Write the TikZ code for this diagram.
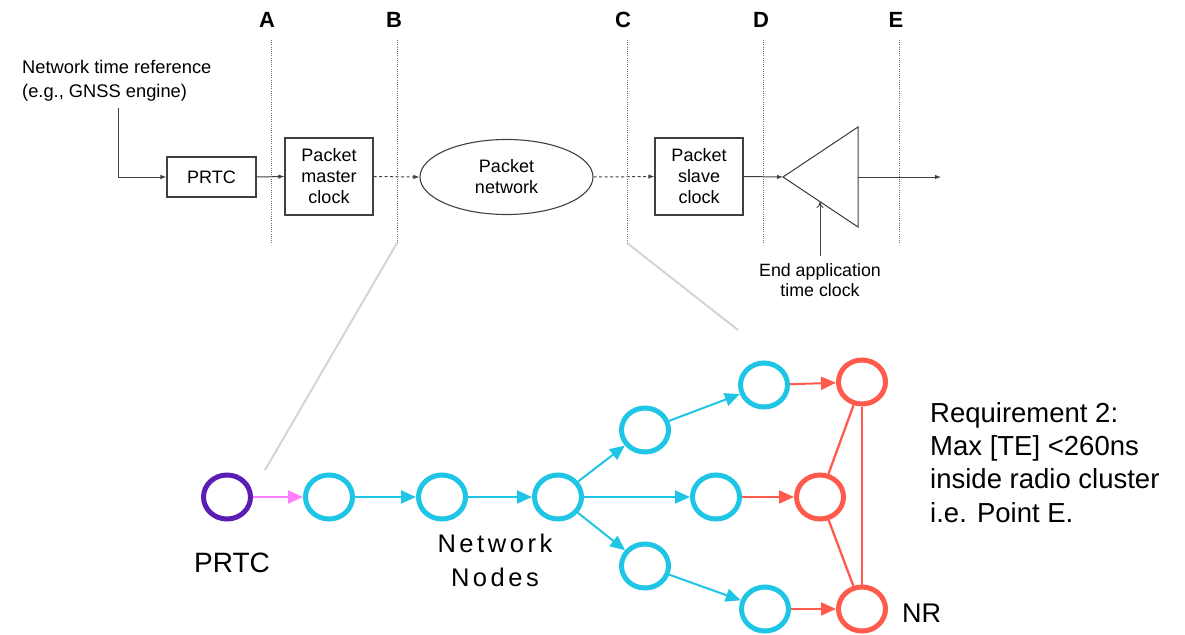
\documentclass[tikz,border=0pt]{standalone}
\usepackage{fontspec}
\setmainfont{Liberation Sans}
\newfontfamily\spacedfont[LetterSpace=14]{Liberation Sans}
\usetikzlibrary{arrows.meta,shapes.geometric}
\definecolor{cyanN}{HTML}{1FC5E5}
\definecolor{redN}{HTML}{FF5A4B}
\definecolor{purpN}{HTML}{5A1EB4}
\definecolor{pinkN}{HTML}{FF80FF}
\definecolor{lineG}{HTML}{404040}
\definecolor{dotG}{HTML}{707070}
\definecolor{diagG}{HTML}{D4D4D4}
\tikzset{
  topbox/.style={draw=lineG, line width=1.1pt, align=center, inner sep=0pt,
    font=\fontsize{18}{21}\selectfont, text=black},
  topline/.style={draw=lineG, line width=1pt},
  toparrow/.style={topline, -{Latex[length=6pt,width=4.5pt]}},
  dasharrow/.style={toparrow, dash pattern=on 3pt off 2.5pt},
  marker/.style={draw=dotG, line width=0.9pt, dash pattern=on 1pt off 1.2pt},
  markerlabel/.style={font=\fontsize{22}{24}\selectfont\bfseries, anchor=base, inner sep=0pt},
  nd/.style={ellipse, draw, line width=5pt, minimum width=47pt, minimum height=44pt, inner sep=0pt},
  cnode/.style={nd, draw=cyanN},
  rnode/.style={nd, draw=redN},
  carrow/.style={draw=cyanN, line width=2pt, -{Triangle[length=15pt,width=13pt]}},
  rarrow/.style={draw=redN, line width=2pt, -{Triangle[length=15pt,width=13pt]}},
  rline/.style={draw=redN, line width=2.3pt},
  diag/.style={draw=diagG, line width=2pt}
}
\begin{document}
\begin{tikzpicture}[x=1pt,y=-1pt]
\useasboundingbox (0,0) rectangle (1185,634);

% ---------- top diagram ----------
\node[font=\fontsize{18.3}{23.5}\selectfont, align=left, anchor=north west, inner sep=0pt] (ref) at (22,60.5)
  {Network time reference\\(e.g., GNSS engine)};
\coordinate (refbot) at (118,108);
\coordinate (bend) at (118,177);

\node[topbox, minimum width=89pt, minimum height=40pt] (prtc) at (211.5,177) {PRTC};
\node[topbox, minimum width=88pt, minimum height=77pt] (pmc) at (329,176.5) {Packet\\master\\clock};
\node[ellipse, draw=lineG, line width=1.1pt, minimum width=173pt, minimum height=75pt, inner sep=0pt,
      align=center, font=\fontsize{18}{21}\selectfont] (pnet) at (506.5,177) {Packet\\network};
\node[topbox, minimum width=88pt, minimum height=77pt] (psc) at (699,176.5) {Packet\\slave\\clock};

\coordinate (tip) at (783,177);
\coordinate (ttop) at (858,127);
\coordinate (tbot) at (858,227);
\coordinate (tright) at (858,177);
\coordinate (out) at (941,177);
\coordinate (tclk) at (820,202);

\draw[topline] (ttop) -- (tbot) -- (tip) -- cycle;

\draw[toparrow] (refbot) -- (bend) -- (prtc.west);
\draw[toparrow] (prtc.east) -- (pmc.west);
\draw[dasharrow] (pmc.east) -- (pnet.west);
\draw[dasharrow] (pnet.east) -- (psc.west);
\draw[toparrow] (psc.east) -- (tip);
\draw[toparrow] (tright) -- (out);

\node[font=\fontsize{17.8}{20}\selectfont, align=center, anchor=north, inner sep=0pt] (endapp) at (820,263.5)
  {End application\\time clock};
\draw[topline, -{To[length=6pt,width=7pt]}] (endapp.north) ++(0,-8) coordinate (eafoot) -- (tclk);

% markers
\foreach \n/\x/\lx in {A/271/267, B/397/394, C/627/623, D/763/761, E/899/896}{
  \coordinate (\n top) at (\x,40);
  \coordinate (\n bot) at (\x,243);
  \draw[marker] (\n top) -- (\n bot);
  \node[markerlabel] (lab\n) at (\lx,27.5) {\n};
}

% zoom lines
\coordinate (zb) at (265,470);
\coordinate (zc) at (738,330);
\draw[diag] (Bbot) -- (zb);
\draw[diag] (Cbot) -- (zc);

% ---------- bottom network ----------
\node[nd, draw=purpN] (p0) at (227,497) {};
\node[cnode] (c1) at (329,497) {};
\node[cnode] (c2) at (442,497) {};
\node[cnode] (c3) at (558,497) {};
\node[cnode] (u1) at (645,430) {};
\node[cnode] (u2) at (764,385) {};
\node[cnode] (m1) at (716,497) {};
\node[cnode] (l1) at (645,566) {};
\node[cnode] (l2) at (765,609) {};
\node[rnode] (rt) at (862,382) {};
\node[rnode] (rm) at (820,497) {};
\node[rnode] (rb) at (862,609) {};

\draw[draw=pinkN, line width=2pt, -{Triangle[length=15pt,width=13pt]}] (p0) -- (c1);
\draw[carrow] (c1) -- (c2);
\draw[carrow] (c2) -- (c3);
\draw[carrow] (c3) -- (u1);
\draw[carrow] (c3) -- (m1);
\draw[carrow] (c3) -- (l1);
\draw[carrow] (u1) -- (u2);
\draw[carrow] (l1) -- (l2);
\draw[rarrow] (u2) -- (rt);
\draw[rarrow] (m1) -- (rm);
\draw[rarrow] (l2) -- (rb);
\draw[rline] (rt) -- (rm);
\draw[rline] (rm) -- (rb);
\draw[rline] (rt) -- (rb);

\node[font=\fontsize{28}{30}\selectfont, anchor=base, inner sep=0pt] (prtclab) at (232,572) {PRTC};
\node[font=\spacedfont\fontsize{25.5}{34}\selectfont, align=center, anchor=north, inner sep=0pt] (nnlab) at (495,534)
  {Network\\Nodes};
\node[font=\fontsize{27}{30}\selectfont, anchor=base west, inner sep=0pt] (nrlab) at (902,622.5) {NR};
\node[font=\fontsize{27.5}{33.3}\selectfont, align=left, anchor=north west, inner sep=0pt] (req) at (930,402)
  {Requirement 2:\\Max [TE] <260ns\\inside radio cluster\\i.e. Point E.};
\end{tikzpicture}
\end{document}
